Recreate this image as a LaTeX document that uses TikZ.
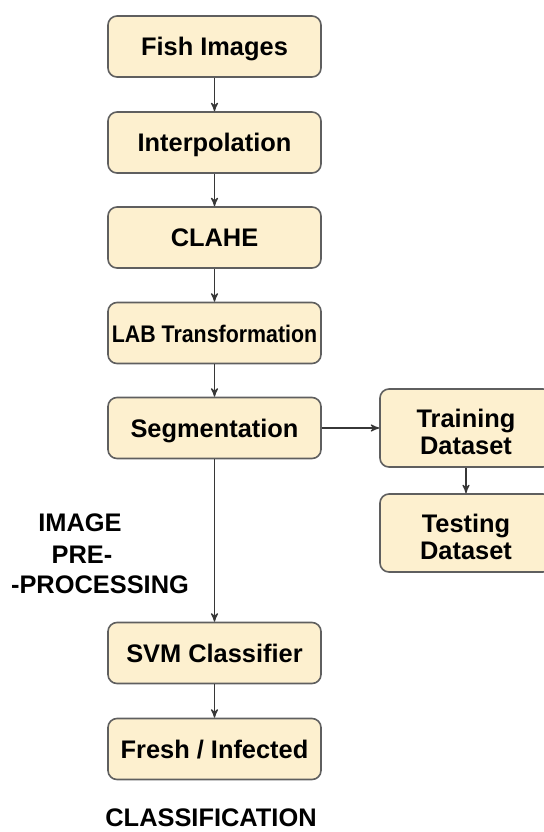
\documentclass[tikz,border=0pt]{standalone}
\usepackage{fontspec}
\setmainfont{Liberation Sans}
\usepackage{graphicx}
\usetikzlibrary{arrows,positioning,calc}
\definecolor{stagefill}{RGB}{253,240,207}
\definecolor{stageline}{RGB}{95,95,95}
\definecolor{flowline}{RGB}{55,55,55}
\newcommand{\twolines}[2]{\raisebox{-3.75pt}[\height][\depth]{\begin{tabular}{@{}c@{}}#1\\#2\end{tabular}}}

\begin{document}
\begin{tikzpicture}[x=0.5pt,y=-0.5pt,>=stealth', semithick,
      stage/.style={rectangle,rounded corners=4.5pt,draw=stageline,fill=stagefill,thick,
        text=black,font=\fontsize{12.7}{13.2}\selectfont\bfseries,inner sep=0pt,
        minimum width=106.5pt,minimum height=30.5pt,text height=9.1pt,text depth=0pt},
      dataset/.style={rectangle,rounded corners=4.5pt,draw=stageline,fill=stagefill,thick,
        text=black,font=\fontsize{12.7}{13.8}\selectfont\bfseries,inner sep=0pt,
        minimum width=86pt,minimum height=39pt},
      phase/.style={text=black,font=\fontsize{12.7}{13.2}\selectfont\bfseries,inner sep=0pt},
      flow/.style={draw=flowline,semithick,->}]
      \useasboundingbox (0,0) rectangle (544,832);
      % main chain
      \node[stage] at (214.5,46.5)  (fish)   {Fish Images};
      \node[stage] at (214.5,142.5) (interp) {Interpolation};
      \node[stage] at (214.5,237.5) (clahe)  {CLAHE};
      \node[stage] at (214.5,333)   (lab)    {\scalebox{0.89}[1]{\fontsize{12}{13}\selectfont\bfseries LAB Transformation}};
      \node[stage] at (214.5,428)   (seg)    {Segmentation};
      \node[stage] at (214.5,653)   (svm)    {SVM Classifier};
      \node[stage] at (214.5,749)   (fresh)  {Fresh / Infected};
      % data split
      \node[dataset] at (466,428) (train) {\twolines{Training}{Dataset}};
      \node[dataset] at (466,533) (test)  {\twolines{Testing}{Dataset}};
      % phase labels
      \node[phase] at (80,523)  (pre1) {IMAGE};
      \node[phase] at (82,555)  (pre2) {PRE-};
      \node[phase] at (100,585) (pre3) {-PROCESSING};
      \node[phase] at (211,818) (cls)  {CLASSIFICATION};
      \draw[flow] (fish) to (interp);
      \draw[flow] (interp) to (clahe);
      \draw[flow] (clahe) to (lab);
      \draw[flow] (lab) to (seg);
      \draw[flow] (seg) to (svm);
      \draw[flow] (svm) to (fresh);
      \draw[flow] (seg) to (train);
      \draw[flow] (train) to (test);
    \end{tikzpicture}
\end{document}
